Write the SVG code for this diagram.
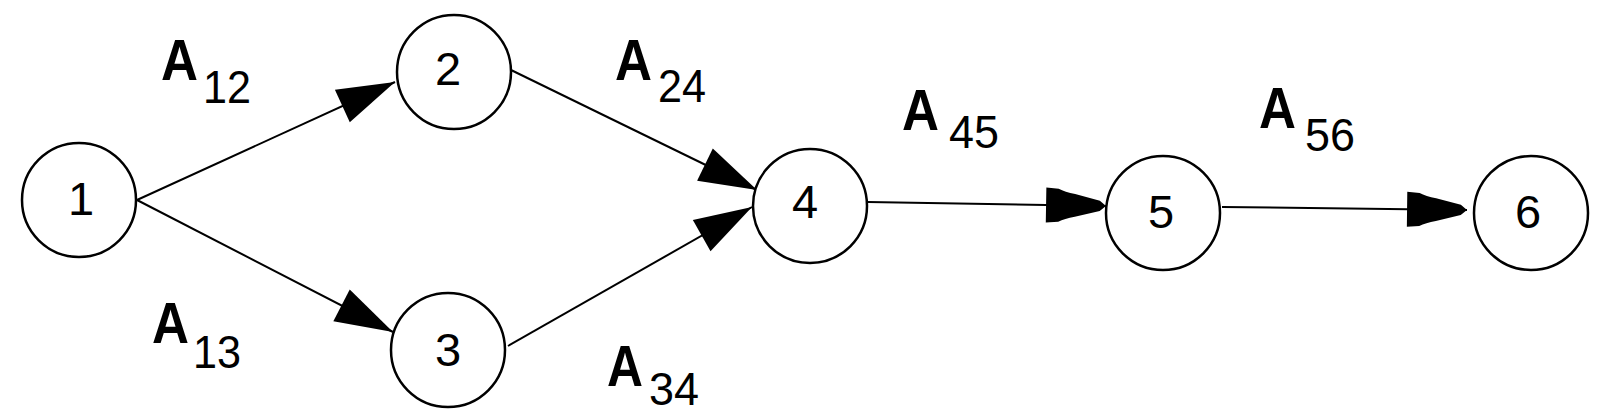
<svg xmlns="http://www.w3.org/2000/svg" width="1610" height="419" viewBox="0 0 1610 419">
<style>
.node circle{fill:#fff;stroke:#000;stroke-width:2.5}
.node text{font-family:"Liberation Sans",Arial,sans-serif;font-size:47px;fill:#000;text-anchor:middle}
.edge{stroke:#000;stroke-width:2;fill:none}
.lbl .a{font-family:"Liberation Sans",Arial,sans-serif;font-weight:bold;font-size:57px;fill:#000}
.lbl .s{font-family:"Liberation Sans",Arial,sans-serif;font-size:47px;fill:#000}
</style>
<defs>
<marker id="tri" markerUnits="userSpaceOnUse" markerWidth="60" markerHeight="40" viewBox="-56 -18 57 36" refX="0" refY="0" orient="auto">
<path d="M0,0 L-55,-17 L-55,17 Z" fill="#000"/>
</marker>
<marker id="blunt" markerUnits="userSpaceOnUse" markerWidth="62" markerHeight="40" viewBox="-59 -18 60 36" refX="0" refY="0" orient="auto">
<path d="M0,0 L-6,-5 L-30,-11 Q-40,-13 -46,-16 L-58,-17 L-58,17 L-46,16 Q-40,13 -30,11 L-6,5 Z" fill="#000"/>
</marker>
</defs>
<rect width="1610" height="419" fill="#fff"/>
<g id="connectors">
<line class="edge" x1="137" y1="200" x2="395" y2="82" marker-end="url(#tri)"/>
<line class="edge" x1="137" y1="200" x2="393" y2="332" marker-end="url(#tri)"/>
<line class="edge" x1="511" y1="70" x2="757" y2="190" marker-end="url(#tri)"/>
<line class="edge" x1="508" y1="346" x2="752" y2="207" marker-end="url(#tri)"/>
<line class="edge" x1="868" y1="202" x2="1106" y2="206" marker-end="url(#blunt)"/>
<line class="edge" x1="1222" y1="207" x2="1467" y2="210" marker-end="url(#blunt)"/>
</g>
<g id="node1" class="node"><circle cx="79" cy="200" r="57"/><text x="81" y="215">1</text></g>
<g id="node2" class="node"><circle cx="454" cy="72" r="57"/><text x="448" y="85">2</text></g>
<g id="node3" class="node"><circle cx="448" cy="350" r="57"/><text x="448" y="366">3</text></g>
<g id="node4" class="node"><circle cx="810" cy="206" r="57"/><text x="805" y="218">4</text></g>
<g id="node5" class="node"><circle cx="1163" cy="213" r="57"/><text x="1161" y="228">5</text></g>
<g id="node6" class="node"><circle cx="1531" cy="213" r="57"/><text x="1528" y="228">6</text></g>
<g id="labels" class="lbl">
<text class="a" x="161" y="80" textLength="37" lengthAdjust="spacingAndGlyphs">A</text>
<text class="s" x="203" y="103" textLength="48" lengthAdjust="spacingAndGlyphs">12</text>
<text class="a" x="152" y="343" textLength="37" lengthAdjust="spacingAndGlyphs">A</text>
<text class="s" x="193" y="368" textLength="48" lengthAdjust="spacingAndGlyphs">13</text>
<text class="a" x="615" y="80" textLength="37" lengthAdjust="spacingAndGlyphs">A</text>
<text class="s" x="658" y="102" textLength="48" lengthAdjust="spacingAndGlyphs">24</text>
<text class="a" x="607" y="386" textLength="36" lengthAdjust="spacingAndGlyphs">A</text>
<text class="s" x="649" y="405" textLength="50" lengthAdjust="spacingAndGlyphs">34</text>
<text class="a" x="902" y="130" textLength="37" lengthAdjust="spacingAndGlyphs">A</text>
<text class="s" x="949" y="148" textLength="50" lengthAdjust="spacingAndGlyphs">45</text>
<text class="a" x="1259" y="128" textLength="37" lengthAdjust="spacingAndGlyphs">A</text>
<text class="s" x="1305" y="151" textLength="50" lengthAdjust="spacingAndGlyphs">56</text>
</g>
</svg>
